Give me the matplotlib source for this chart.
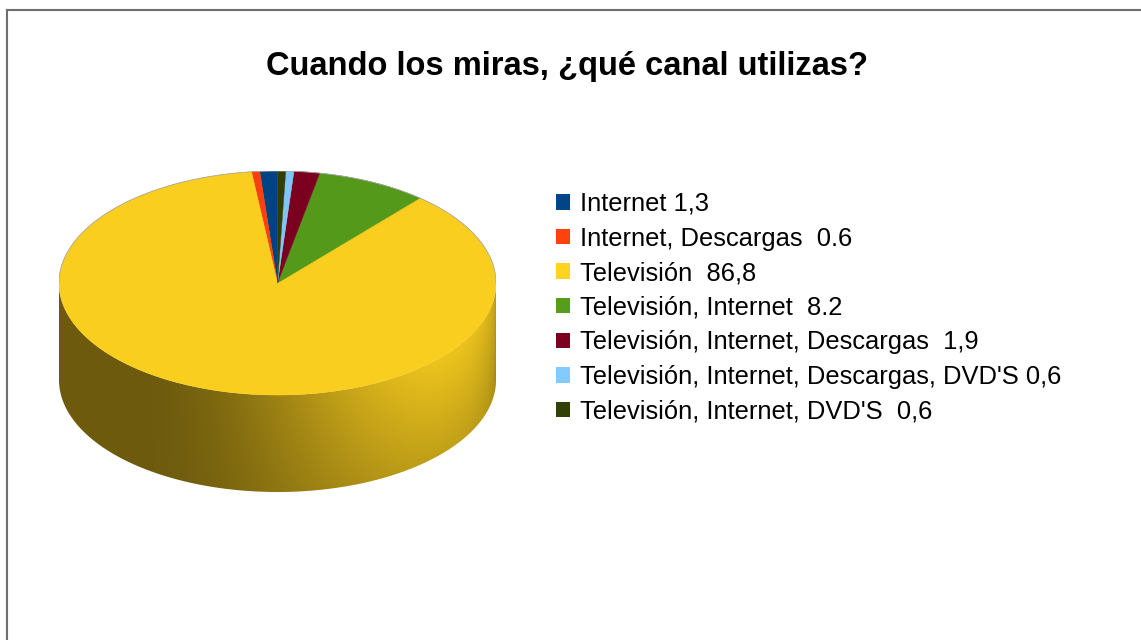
import numpy as np
import matplotlib.pyplot as plt
from matplotlib.patches import Patch, Polygon
from matplotlib.lines import Line2D
from matplotlib.colors import to_rgb

plt.rcParams['font.family'] = ['Liberation Sans', 'DejaVu Sans']

# Survey answers (percent) and their legend texts
categories = ["Internet", "Internet, Descargas", "Televisión", "Televisión, Internet",
              "Televisión, Internet, Descargas", "Televisión, Internet, Descargas, DVD'S",
              "Televisión, Internet, DVD'S"]
values = [1.3, 0.6, 86.8, 8.2, 1.9, 0.6, 0.6]
legend_labels = ["Internet 1,3", "Internet, Descargas  0.6", "Televisión  86,8",
                 "Televisión, Internet  8.2", "Televisión, Internet, Descargas  1,9",
                 "Televisión, Internet, Descargas, DVD'S 0,6", "Televisión, Internet, DVD'S  0,6"]
colors = ["#004586", "#ff420e", "#ffd320", "#579d1c", "#7e0021", "#83caff", "#314004"]

W, H = 1141, 640
fig = plt.figure(figsize=(W / 100, H / 100), dpi=100)

# pie geometry: unit radius, flattened top and a cylinder wall underneath
tilt = 0.513
depth = 0.444
left, right, top, bottom = 59, 496, 171, 492
ax = fig.add_axes([left / W, 1 - bottom / H, (right - left) / W, (bottom - top) / H])
ax.axis('off')

# wedge angles, counter-clockwise from 12 o'clock
fracs = np.array(values) / sum(values)
edges = 90 + 360 * np.concatenate([[0], np.cumsum(fracs)])
base_rgb = np.array([to_rgb(c) for c in colors])

# front wall of the cylinder: shaded image clipped to the wall outline
nx, ny = 600, 300
xs = np.linspace(-1, 1, nx)
ys = np.linspace(-tilt - depth, 0, ny)
X, Y = np.meshgrid(xs, ys)
theta = 360 - np.degrees(np.arccos(np.clip(X, -1, 1)))
Z = np.clip(1 - (tilt * np.sin(np.radians(theta)) - Y) / depth, 0, 1)
idx = np.searchsorted(edges, (theta - 90) % 360 + 90, side='right') - 1
idx = np.clip(idx, 0, len(values) - 1)
# light coming from the front right
diff = np.clip(np.cos(np.radians(theta - 322)), 0, None)
f = 0.43 + diff ** 2 * (0.33 + 0.17 * Z)
img = np.clip(base_rgb[idx] * f[..., None], 0, 1)

a = np.radians(np.linspace(180, 360, 300))
wall = np.concatenate([np.column_stack([np.cos(a), tilt * np.sin(a)]),
                       np.column_stack([np.cos(a[::-1]), tilt * np.sin(a[::-1]) - depth])])
wall_patch = Polygon(wall, closed=True, facecolor='none', edgecolor='none')
ax.add_patch(wall_patch)
im = ax.imshow(img, origin='lower', extent=(-1, 1, -tilt - depth, 0),
               aspect='auto', interpolation='bilinear')
im.set_clip_path(wall_patch)

# top face
for i, c in enumerate(colors):
    a = np.radians(np.linspace(edges[i], edges[i + 1], max(3, int(fracs[i] * 720))))
    pts = [(0, 0)] + list(zip(np.cos(a), tilt * np.sin(a)))
    fc = base_rgb[i] * 0.975
    ax.add_patch(Polygon(pts, closed=True, facecolor=fc, edgecolor=fc, linewidth=0.3))

# faint rim along the back of the top face
a = np.radians(np.linspace(0, 180, 200))
ax.plot(np.cos(a), tilt * np.sin(a), color='#a8a8a8', lw=0.6)
ax.set_xlim(-1, 1)
ax.set_ylim(-tilt - depth, tilt)

fig.text(567 / W, 1 - 66 / H, "Cuando los miras, ¿qué canal utilizas?",
         ha='center', va='center', fontsize=23.5, fontweight='bold')

handles = [Patch(facecolor=c, edgecolor='none') for c in colors]
fig.legend(handles, legend_labels, loc='upper left',
           bbox_to_anchor=(556 / W, 1 - 192 / H), frameon=False, fontsize=18.4,
           handlelength=0.55, handleheight=0.55, handletextpad=0.4,
           labelspacing=0.415, borderpad=0, borderaxespad=0)

# outer frame (top and left edges)
fig.add_artist(Line2D([6.5 / W, 1], [1 - 9.5 / H, 1 - 9.5 / H], color='#6e6e6e', lw=1.5))
fig.add_artist(Line2D([6.5 / W, 6.5 / W], [0, 1 - 9.5 / H], color='#6e6e6e', lw=1.5))

fig.savefig('out.png', dpi=100)
